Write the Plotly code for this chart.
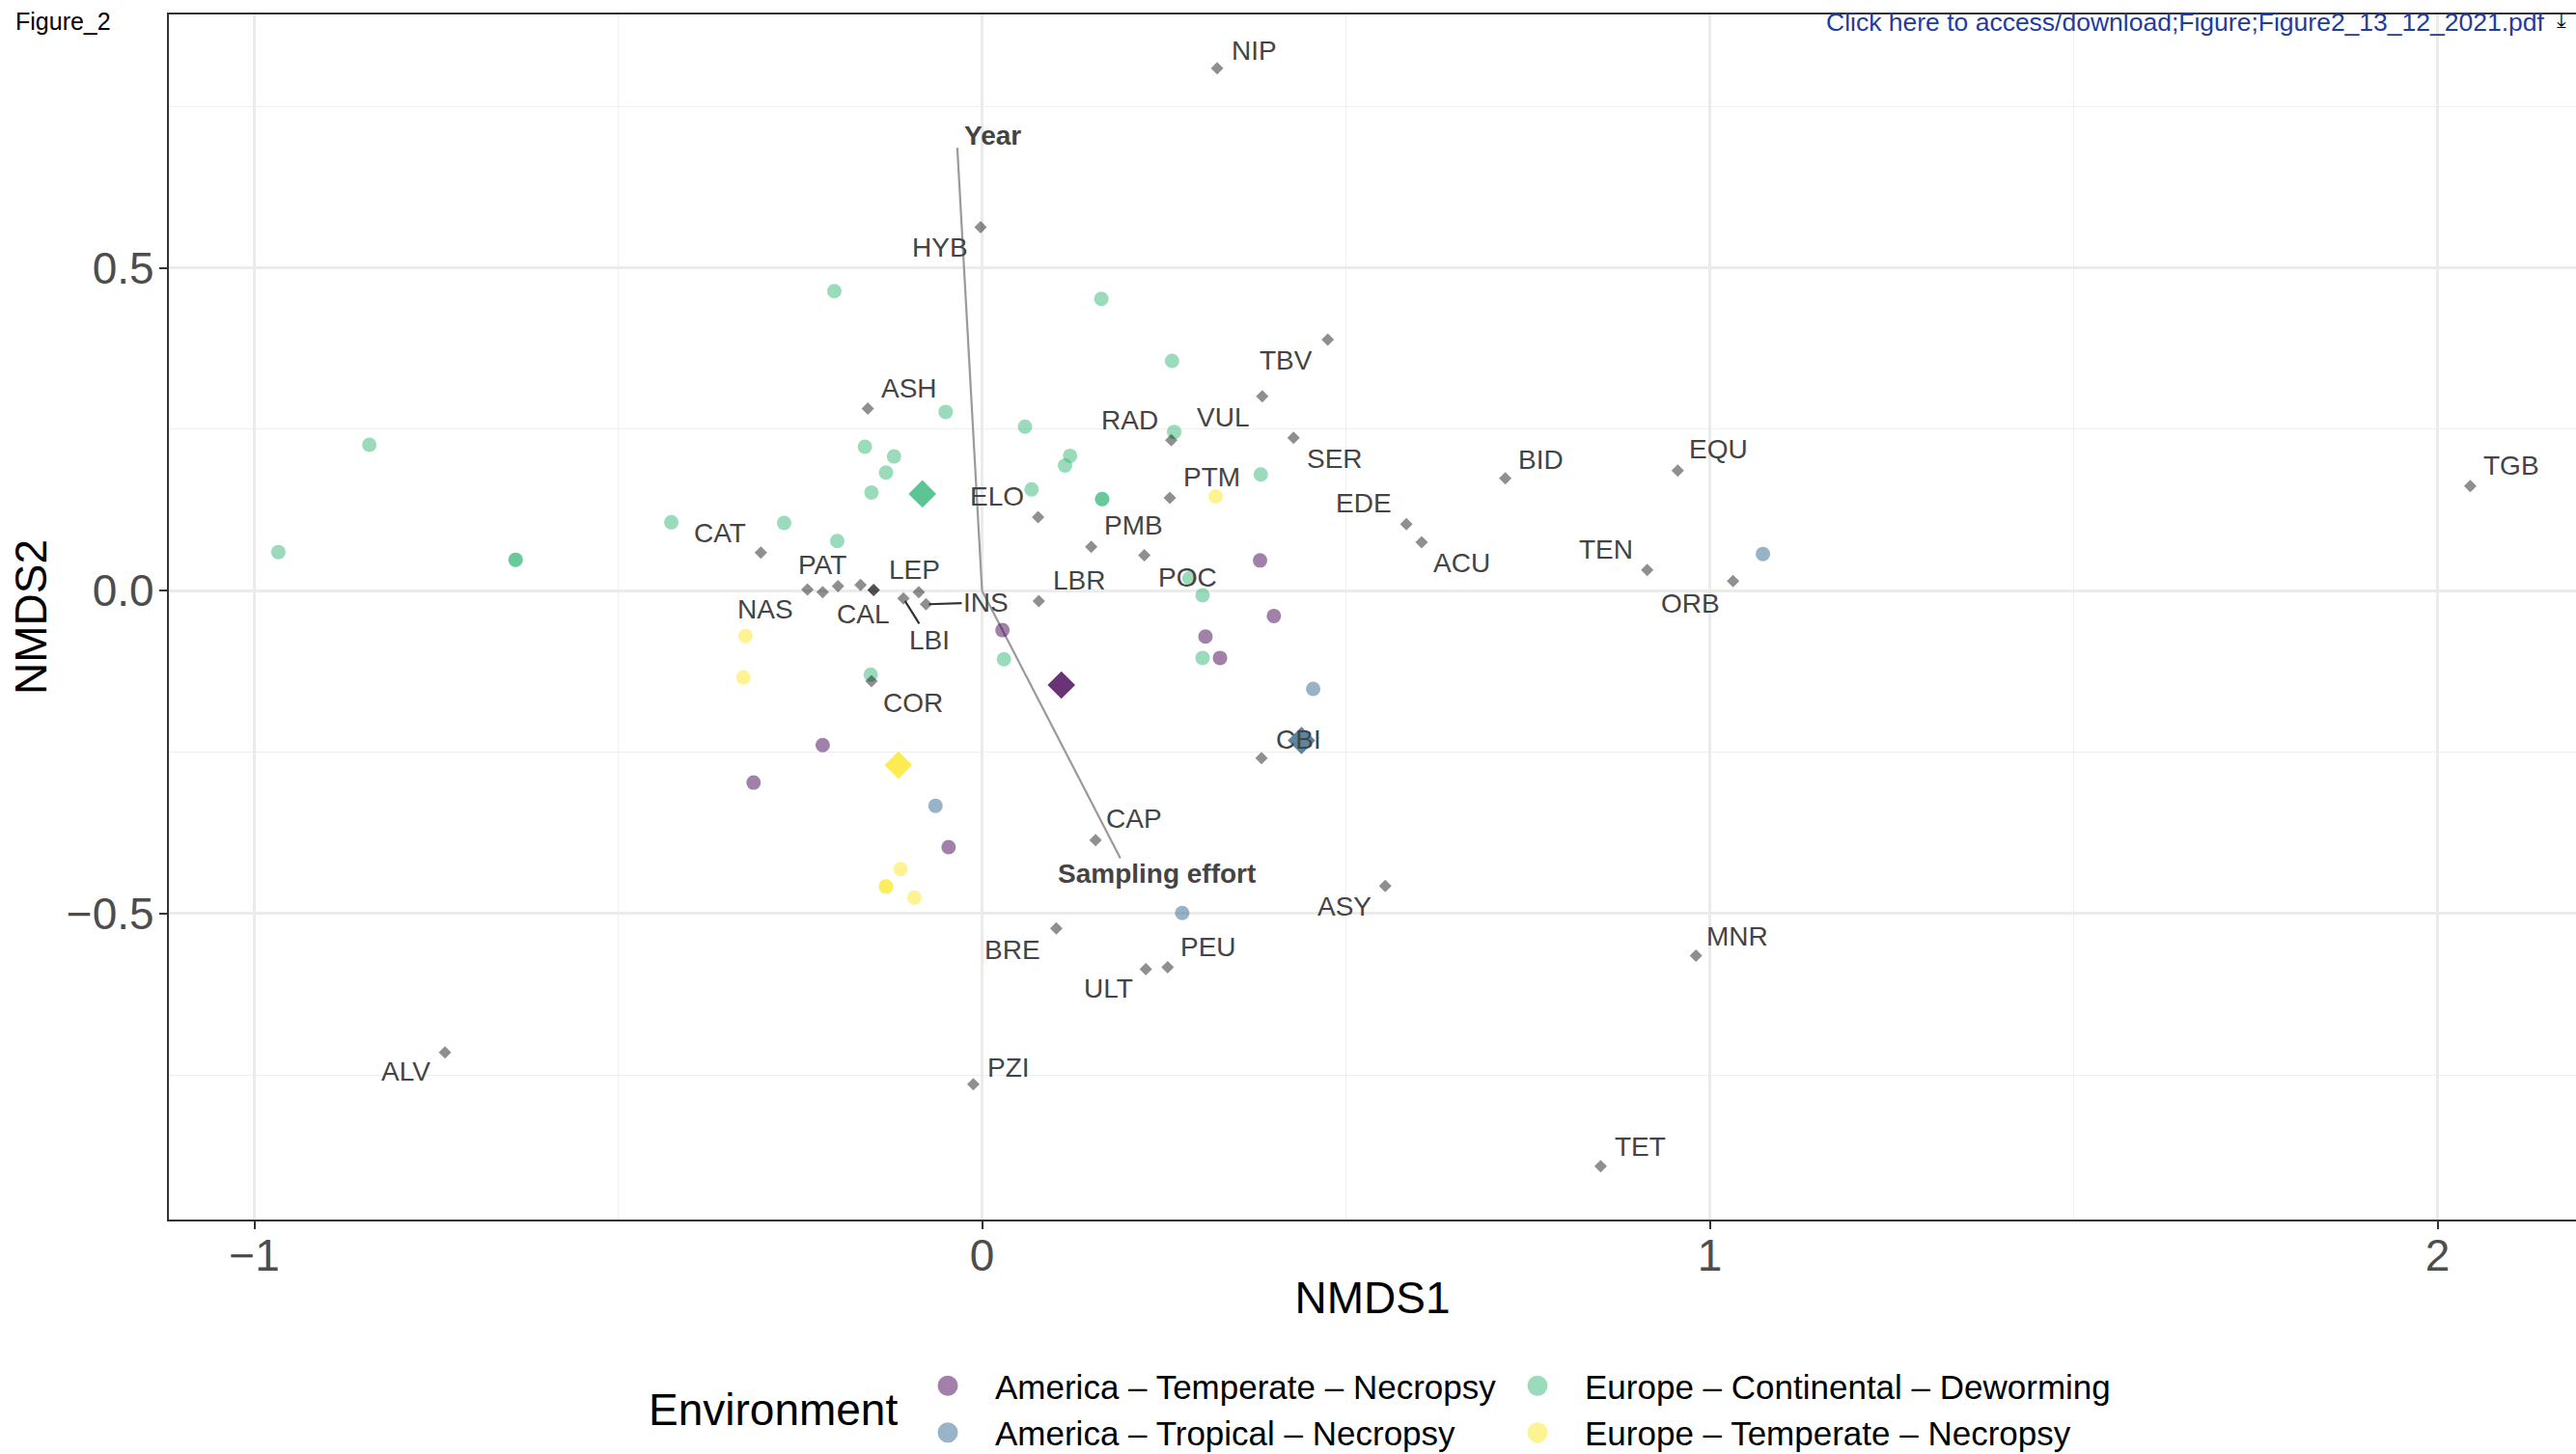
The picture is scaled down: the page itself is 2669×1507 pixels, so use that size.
import plotly.graph_objects as go

FONT = "Liberation Sans, Arial, Helvetica, sans-serif"

# ---------------- site scores (NMDS1, NMDS2) per environment ----------------
env_names = [
    "America – Temperate – Necropsy",
    "America – Tropical – Necropsy",
    "Europe – Continental – Deworming",
    "Europe – Temperate – Necropsy",
]

am_temp_x = [0.382, 0.401, 0.307, 0.327, 0.028, -0.219, -0.314, -0.046]
am_temp_y = [0.047, -0.039, -0.071, -0.104, -0.061, -0.239, -0.297, -0.397]

am_trop_x = [1.073, 0.455, -0.064, 0.275]
am_trop_y = [0.057, -0.152, -0.333, -0.499]

eu_cont_x = [-0.842, -0.967, -0.641, -0.641, -0.427, -0.272, -0.199, -0.203, 0.164,
             -0.050, 0.059, -0.161, -0.121, -0.132, -0.152, 0.121, 0.114, 0.068,
             0.165, 0.165, 0.261, 0.264, 0.383, 0.285, 0.303, 0.303, -0.153, 0.030]
eu_cont_y = [0.226, 0.060, 0.048, 0.048, 0.106, 0.105, 0.077, 0.464, 0.452,
             0.277, 0.254, 0.223, 0.208, 0.183, 0.152, 0.209, 0.194, 0.157,
             0.142, 0.142, 0.356, 0.246, 0.180, 0.019, -0.007, -0.104, -0.130, -0.106]

eu_temp_x = [0.321, -0.325, -0.328, -0.112, -0.132, -0.132, -0.093]
eu_temp_y = [0.146, -0.070, -0.134, -0.431, -0.458, -0.458, -0.475]

env_x = [am_temp_x, am_trop_x, eu_cont_x, eu_temp_x]
env_y = [am_temp_y, am_trop_y, eu_cont_y, eu_temp_y]

# group centroids
centroid_x = [0.109, 0.439, -0.082, -0.115]
centroid_y = [-0.146, -0.232, 0.150, -0.270]

env_colors = ["#440154", "#31688E", "#35B779", "#FDE725"]

# ---------------- species scores ----------------
species = ["NIP", "HYB", "TBV", "VUL", "RAD", "SER", "BID", "PTM", "EDE", "ACU",
           "TEN", "EQU", "ORB", "TGB", "ASH", "ELO", "PMB", "POC", "CAT", "NAS",
           "PAT", "", "CAL", "", "", "LBI", "LEP", "INS", "LBR", "COR",
           "CBI", "CAP", "ASY", "BRE", "PEU", "ULT", "PZI", "ALV", "MNR", "TET"]
sp_x = [0.323, -0.002, 0.475, 0.385, 0.260, 0.428, 0.719, 0.258, 0.583, 0.604,
        0.914, 0.956, 1.032, 2.045, -0.157, 0.077, 0.150, 0.223, -0.304, -0.240,
        -0.219, -0.198, -0.167, -0.149, -0.149, -0.108, -0.087, -0.077, 0.078, -0.152,
        0.384, 0.156, 0.554, 0.102, 0.255, 0.225, -0.012, -0.738, 0.981, 0.850]
sp_y = [0.809, 0.563, 0.389, 0.301, 0.233, 0.237, 0.174, 0.144, 0.103, 0.075,
        0.032, 0.186, 0.015, 0.162, 0.282, 0.114, 0.068, 0.055, 0.059, 0.002,
        -0.002, 0.007, 0.009, 0.001, 0.001, -0.012, -0.002, -0.021, -0.016, -0.140,
        -0.259, -0.386, -0.457, -0.523, -0.583, -0.586, -0.764, -0.715, -0.565, -0.891]

# ---------------- fitted environmental vectors ----------------
vec_names = ["Year", "Sampling effort"]
vec_x = [-0.034, 0.190]
vec_y = [0.686, -0.414]

# label placement (pixel offsets from the point, +y downwards)
label_offset = {
    "NIP": (38, -18), "HYB": (-42, 21), "TBV": (-43, 22), "VUL": (-41, 22),
    "RAD": (-43, -21), "SER": (43, 22), "BID": (37, -19), "PTM": (43, -21),
    "EDE": (-44, -22), "ACU": (42, 21), "TEN": (-43, -21), "EQU": (42, -22),
    "ORB": (-44, 23), "TGB": (43, -21), "ASH": (43, -21), "ELO": (-43, -21),
    "PMB": (44, -22), "POC": (45, 23), "CAT": (-42, -20), "NAS": (-44, 21),
    "PAT": (0, -28), "CAL": (2, 30), "LEP": (-4, -23), "LBR": (42, -22),
    "COR": (43, 22), "CBI": (38, -19), "CAP": (40, -22), "ASY": (-42, 21),
    "BRE": (-45, 22), "PEU": (42, -21), "ULT": (-39, 20), "PZI": (37, -17),
    "ALV": (-41, 20), "MNR": (43, -20), "TET": (41, -20),
}
segment_offset = {"LBI": (27, 43), "INS": (62, -2)}
vec_label_offset = {"Year": (37, -13), "Sampling effort": (38, 16)}

W, H = 2669, 1507
PLOT_L, PLOT_T, PLOT_B = 175, 15, 1264
POINT_ALPHA = 0.5


def over_white(hex_color, alpha):
    """Solid colour equivalent of hex_color drawn with `alpha` on white."""
    r, g, b = (int(hex_color[i:i + 2], 16) for i in (1, 3, 5))
    mix = [round(alpha * c + (1 - alpha) * 255) for c in (r, g, b)]
    return "rgb(%d,%d,%d)" % tuple(mix)


fig = go.Figure()

# envfit arrows (drawn first, beneath the points)
for vx, vy in zip(vec_x, vec_y):
    fig.add_trace(go.Scatter(
        x=[0, vx], y=[0, vy], mode="lines",
        line=dict(color="#9a9a9a", width=2.2),
        showlegend=False, hoverinfo="skip"))

# site points
legend_of = ["legend", "legend", "legend2", "legend2"]
for name, xs, ys, col, lg in zip(env_names, env_x, env_y, env_colors, legend_of):
    fig.add_trace(go.Scatter(
        x=xs, y=ys, mode="markers", name=name, legendgroup=name,
        showlegend=False,
        marker=dict(symbol="circle", size=15, color=col, opacity=POINT_ALPHA,
                    line=dict(width=0)),
    ))
    # legend key (larger key symbol, same colour as the points)
    fig.add_trace(go.Scatter(
        x=[None], y=[None], mode="markers", name=name, legendgroup=name,
        legend=lg, showlegend=True, hoverinfo="skip",
        marker=dict(symbol="circle", size=16,
                    color=over_white(col, POINT_ALPHA),
                    line=dict(width=5, color=over_white(col, POINT_ALPHA))),
    ))

# species scores
fig.add_trace(go.Scatter(
    x=sp_x, y=sp_y, mode="markers", showlegend=False,
    marker=dict(symbol="diamond", size=10, color="black", opacity=0.44,
                line=dict(width=0)),
))

# group centroids
for cx, cy, col in zip(centroid_x, centroid_y, env_colors):
    fig.add_trace(go.Scatter(
        x=[cx], y=[cy], mode="markers", showlegend=False,
        marker=dict(symbol="diamond", size=22, color=col, opacity=0.8,
                    line=dict(width=0)),
    ))

annotations = []
label_font = dict(family=FONT, size=28, color="#444444")
for name, x, y in zip(species, sp_x, sp_y):
    if name in label_offset:
        dx, dy = label_offset[name]
        annotations.append(dict(
            x=x, y=y, xref="x", yref="y", text=name, showarrow=False,
            xshift=dx, yshift=-dy, xanchor="center", yanchor="middle",
            font=label_font))
    elif name in segment_offset:
        dx, dy = segment_offset[name]
        annotations.append(dict(
            x=x, y=y, xref="x", yref="y", text=name, showarrow=True,
            ax=dx, ay=dy, arrowhead=0, arrowwidth=2.2, arrowcolor="#333333",
            standoff=3, font=label_font))

for name, x, y in zip(vec_names, vec_x, vec_y):
    dx, dy = vec_label_offset[name]
    annotations.append(dict(
        x=x, y=y, xref="x", yref="y", text="<b>%s</b>" % name, showarrow=False,
        xshift=dx, yshift=-dy, xanchor="center", yanchor="middle",
        font=dict(family=FONT, size=28, color="#444444")))

# page header texts
annotations.append(dict(
    x=14 / W, y=1 - 22 / H, xref="paper", yref="paper", text="Figure_2",
    showarrow=False, xanchor="left", yanchor="middle",
    font=dict(family=FONT, size=25, color="black")))
annotations.append(dict(
    x=2639 / W, y=1 - 23 / H, xref="paper", yref="paper",
    text="Click here to access/download;Figure;Figure2_13_12_2021.pdf",
    showarrow=False, xanchor="right", yanchor="middle",
    font=dict(family=FONT, size=26.5, color="#1f3c9e")))
annotations.append(dict(
    x=2654 / W, y=1 - 22 / H, xref="paper", yref="paper", text="⤓",
    showarrow=False, xanchor="center", yanchor="middle",
    font=dict(family="DejaVu Sans", size=22, color="black")))

# legend title
annotations.append(dict(
    x=670 / W, y=1 - 1461 / H, xref="paper", yref="paper", text="Environment",
    showarrow=False, xanchor="left", yanchor="middle",
    font=dict(family=FONT, size=46, color="black")))

axis_common = dict(
    showgrid=True, gridcolor="#EBEBEB", gridwidth=2.6,
    zeroline=False, showline=True, linecolor="#333333", linewidth=2.4,
    ticks="outside", ticklen=8, tickwidth=2.2, tickcolor="#333333",
    tickfont=dict(family=FONT, size=46, color="#4D4D4D"),
)

x_lo = -1.1174
x_hi = 2.1903
y_lo = -0.9737
y_hi = 0.8924

legend_style = dict(
    y=1 - 1407 / H, xanchor="left", yanchor="top",
    orientation="v", bgcolor="rgba(0,0,0,0)", itemsizing="trace",
    itemwidth=88, font=dict(family=FONT, size=35, color="black"),
    tracegroupgap=0)

fig.update_layout(
    width=W, height=H,
    margin=dict(l=0, r=0, t=0, b=0, autoexpand=False),
    paper_bgcolor="white", plot_bgcolor="white",
    font=dict(family=FONT),
    xaxis=dict(
        domain=[PLOT_L / W, 1.0], range=[x_lo, x_hi],
        tick0=0, dtick=1, mirror=True, ticklabelstandoff=-12,
        minor=dict(tick0=0, dtick=0.5, showgrid=True, gridcolor="#EFEFEF",
                   gridwidth=1.4),
        title=dict(text="NMDS1", standoff=2,
                   font=dict(family=FONT, size=46, color="black")),
        **axis_common),
    yaxis=dict(
        domain=[1 - PLOT_B / H, 1 - PLOT_T / H], range=[y_lo, y_hi],
        tick0=0, dtick=0.5, tickformat=".1f", ticklabelstandoff=-4,
        minor=dict(tick0=0, dtick=0.25, showgrid=True, gridcolor="#EFEFEF",
                   gridwidth=1.4),
        title=dict(text="NMDS2", standoff=6,
                   font=dict(family=FONT, size=46, color="black")),
        **axis_common),
    legend=dict(x=933 / W, **legend_style),
    legend2=dict(x=1544 / W, **legend_style),
    annotations=annotations,
)

fig.write_html("out.html")
